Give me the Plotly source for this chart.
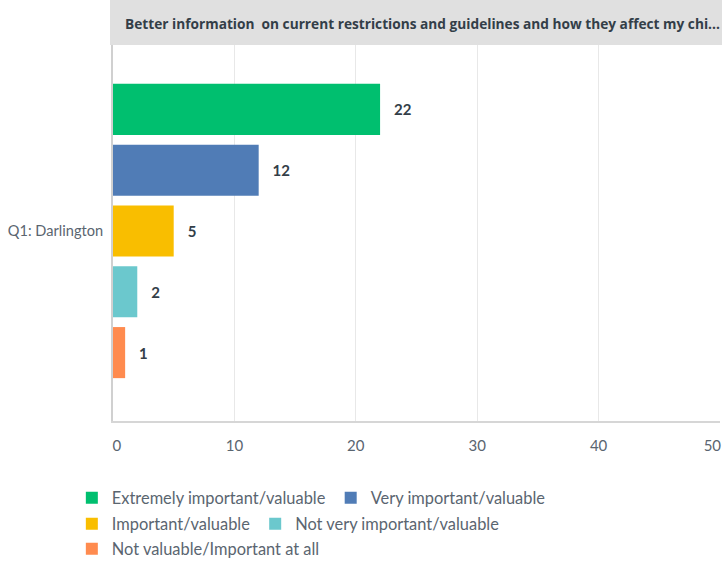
import plotly.graph_objects as go

category = ["Q1: Darlington"]
series_names = [
    "Extremely important/valuable",
    "Very important/valuable",
    "Important/valuable",
    "Not very important/valuable",
    "Not valuable/Important at all",
]
series_values = [22, 12, 5, 2, 1]
colors = ["#00bf6f", "#507cb6", "#f9be00", "#6bc8cd", "#ff8b4f"]
legend_ids = ["legend", "legend", "legend2", "legend2", "legend3"]
x_ticks = [0, 10, 20, 30, 40, 50]
x_tick_labels = ["0", "10", "20", "30", "40", "50"]
header = "Better information  on current restrictions and guidelines and how they affect my chi..."

FONT = "Lato"
W, H = 722, 564
L, R, T, B = 113, 2, 41, 143
PW, PH = W - L - R, H - T - B
NB = "\u00a0"

# keep edge tick labels inside the figure, as in the reference
tick_text = list(x_tick_labels)
tick_text[0] = NB * 2 + tick_text[0]
tick_text[-1] = tick_text[-1] + NB * 4

fig = go.Figure()
for name, val, col, lg in zip(series_names, series_values, colors, legend_ids):
    fig.add_trace(go.Bar(
        y=category, x=[val], name=name, orientation="h",
        marker=dict(color=col, line=dict(width=0)),
        text=[val], texttemplate="   %{x}", textposition="outside",
        textfont=dict(family=FONT, size=15, color="#333e48", weight="bold"),
        cliponaxis=False, legend=lg,
    ))

legend_common = dict(
    orientation="h", xref="container", yref="container", x=0.0995,
    xanchor="left", yanchor="middle",
    font=dict(family=FONT, size=16.4, color="#5a6570"),
    bgcolor="rgba(0,0,0,0)", itemclick=False, tracegroupgap=0,
)

fig.update_layout(
    width=W, height=H,
    margin=dict(l=L, r=R, t=T, b=B),
    paper_bgcolor="white", plot_bgcolor="white",
    barmode="group", bargap=0.2, bargroupgap=0.16,
    showlegend=True,
    legend=dict(**legend_common, y=1 - 498 / H),
    legend2=dict(**legend_common, y=1 - 524 / H),
    legend3=dict(**legend_common, y=1 - 549 / H),
    xaxis=dict(
        range=[0, 50], tickvals=x_ticks, ticktext=tick_text,
        showgrid=True, gridcolor="#e8e8e8", gridwidth=1,
        zeroline=False, showline=True, linecolor="#d6d6d6", linewidth=2,
        tickfont=dict(family=FONT, size=15, color="#5a6570"),
        ticks="", ticklabelstandoff=10, automargin=False, ticklabeloverflow="allow",
    ),
    yaxis=dict(
        autorange="reversed", showgrid=False, showline=True, linecolor="#d0d0d0",
        linewidth=2, tickfont=dict(family=FONT, size=14.6, color="#5a6570"), ticks="",
        ticklabelstandoff=5, automargin=False,
    ),
    shapes=[dict(type="rect", xref="paper", yref="paper",
                 x0=(110 - L) / PW, x1=(W - L) / PW,
                 y0=(H - B - 45) / PH, y1=(H - B) / PH,
                 fillcolor="#e0e0e0", line=dict(width=0), layer="above")],
    annotations=[dict(text=header, xref="paper", yref="paper",
                      x=(123 - L) / PW, y=(H - B - 23) / PH,
                      xanchor="left", yanchor="middle", showarrow=False,
                      font=dict(family="Open Sans", size=13.7, color="#333e48", weight="bold"))],
)

fig.write_html("out.html", config={"displayModeBar": False},
               post_script="document.body.style.margin='0';")
